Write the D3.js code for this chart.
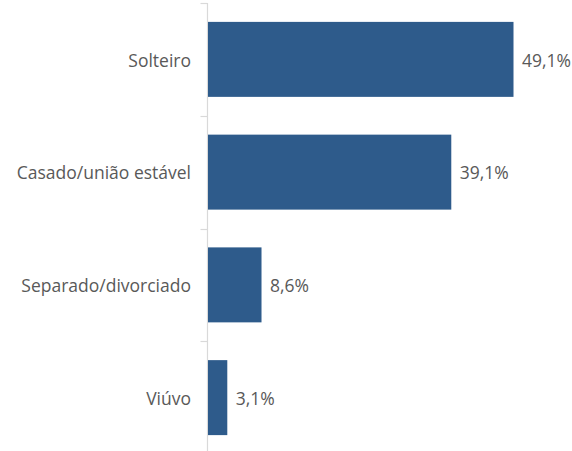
<!DOCTYPE html>
<html>
<head>
<meta charset="utf-8">
<script src="https://cdn.jsdelivr.net/npm/d3@7"></script>
<style>
  html, body { margin: 0; padding: 0; background: #ffffff; }
  svg { display: block; }
  text { font-family: "Open Sans", "Liberation Sans", sans-serif; fill: #595959; }
</style>
</head>
<body>
<svg id="chart" width="572" height="451"></svg>
<script>
// Estado civil — percentage of respondents
const categories = ["Solteiro", "Casado/união estável", "Separado/divorciado", "Viúvo"];
const values = [49.1, 39.1, 8.6, 3.1];
const valueLabels = ["49,1%", "39,1%", "8,6%", "3,1%"];

const svg = d3.select("#chart");
const axisX = 207.5;
const plotTop = 3, plotBottom = 454;

const x = d3.scaleLinear().domain([0, 49.1]).range([axisX, 513]);
const y = d3.scaleBand().domain(categories).range([plotTop, plotBottom]).paddingInner(0.335).paddingOuter(0.1675);

// category boundary ticks and vertical axis line
const bounds = d3.range(categories.length + 1).map(i => plotTop + i * (plotBottom - plotTop) / categories.length);
svg.append("line")
  .attr("x1", axisX).attr("x2", axisX)
  .attr("y1", plotTop).attr("y2", plotBottom)
  .attr("stroke", "#d9d9d9").attr("stroke-width", 1.2);
svg.selectAll("line.tick").data(bounds).join("line")
  .attr("class", "tick")
  .attr("x1", axisX - 7).attr("x2", axisX)
  .attr("y1", d => Math.round(d) + 0.5).attr("y2", d => Math.round(d) + 0.5)
  .attr("stroke", "#d9d9d9").attr("stroke-width", 1.2);

// bars
svg.selectAll("rect.bar").data(categories).join("rect")
  .attr("class", "bar")
  .attr("x", x(0) + 0.5)
  .attr("y", d => y(d))
  .attr("width", (d, i) => x(values[i]) - x(0))
  .attr("height", y.bandwidth())
  .attr("fill", "#2e5b8b");

// category labels
svg.selectAll("text.cat").data(categories).join("text")
  .attr("class", "cat")
  .attr("x", 191)
  .attr("y", d => y(d) + y.bandwidth() / 2 + 1)
  .attr("dy", "0.35em")
  .attr("text-anchor", "end")
  .attr("font-size", 17.5)
  .text(d => d);

// value labels
svg.selectAll("text.val").data(categories).join("text")
  .attr("class", "val")
  .attr("x", (d, i) => x(values[i]) + 9)
  .attr("y", d => y(d) + y.bandwidth() / 2 + 1)
  .attr("dy", "0.35em")
  .attr("font-size", 17.5)
  .text((d, i) => valueLabels[i]);
</script>
</body>
</html>
